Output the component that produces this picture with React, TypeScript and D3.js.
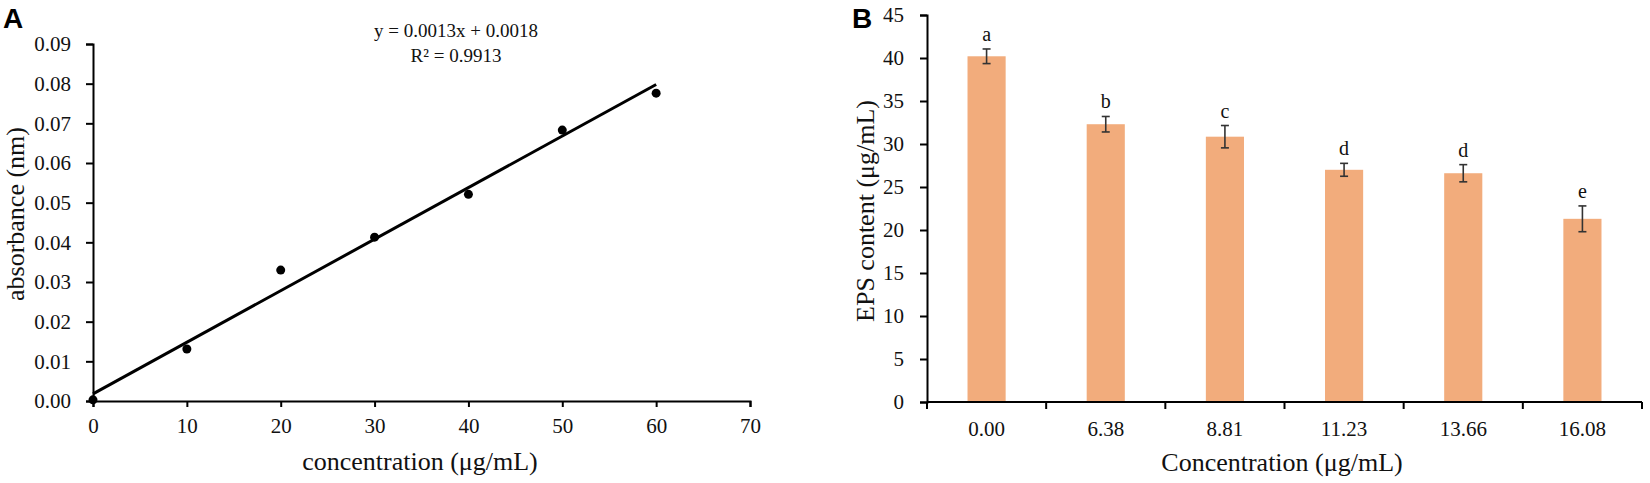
import { useEffect, useRef } from "react";
import * as d3 from "d3";

// Panel A: standard curve
const calibConc = [0, 10, 20, 30, 40, 50, 60];
const calibAbs = [0.0003, 0.0131, 0.033, 0.0413, 0.0521, 0.0683, 0.0776];
const slope = 0.0013;
const intercept = 0.0018;
const absTicks = [0, 0.01, 0.02, 0.03, 0.04, 0.05, 0.06, 0.07, 0.08, 0.09];
const concTicks = [0, 10, 20, 30, 40, 50, 60, 70];

// Panel B: EPS content
const concLabels = ["0.00", "6.38", "8.81", "11.23", "13.66", "16.08"];
const epsValues = [40.2, 32.3, 30.85, 27.0, 26.6, 21.3];
const epsErrors = [0.85, 0.9, 1.3, 0.75, 1.0, 1.5];
const sigLetters = ["a", "b", "c", "d", "d", "e"];
const epsTicks = [0, 5, 10, 15, 20, 25, 30, 35, 40, 45];

const FONT = "'Liberation Serif', 'Times New Roman', serif";
const INK = "#111";

export default function App() {
  const ref = useRef<SVGSVGElement | null>(null);

  useEffect(() => {
    const svg = d3.select(ref.current);
    svg.selectAll("*").remove();

    const styleAxis = (g: d3.Selection<SVGGElement, unknown, null, undefined>) => {
      g.select(".domain").attr("stroke-width", 2).attr("stroke", "#000");
      g.selectAll(".tick line").attr("stroke-width", 2).attr("stroke", "#000");
      g.selectAll("text").attr("font-family", FONT).attr("font-size", 21).attr("fill", INK);
    };

    // ---------- Panel A ----------
    const ax = d3.scaleLinear().domain([0, 70]).range([93, 750]);
    const ay = d3.scaleLinear().domain([0, 0.09]).range([401, 44]);

    const gA = svg.append("g");

    gA.append("g")
      .attr("transform", `translate(0,${ay(0)})`)
      .call(d3.axisBottom(ax).tickValues(concTicks).tickSize(6).tickPadding(11).tickFormat(d3.format("d")))
      .call(styleAxis);

    gA.append("g")
      .attr("transform", `translate(${ax(0)},0)`)
      .call(d3.axisLeft(ay).tickValues(absTicks).tickSize(7).tickPadding(15).tickFormat(d3.format(".2f")))
      .call(styleAxis);

    // trendline
    gA.append("line")
      .attr("x1", ax(0))
      .attr("y1", ay(intercept))
      .attr("x2", ax(60))
      .attr("y2", ay(slope * 60 + intercept))
      .attr("stroke", "#000")
      .attr("stroke-width", 3);

    gA.selectAll("circle")
      .data(calibConc)
      .enter()
      .append("circle")
      .attr("cx", d => ax(d))
      .attr("cy", (_, i) => ay(calibAbs[i]))
      .attr("r", 4.5)
      .attr("fill", "#000");

    gA.append("text")
      .attr("x", 456)
      .attr("y", 37)
      .attr("text-anchor", "middle")
      .attr("font-family", FONT)
      .attr("font-size", 19)
      .attr("fill", INK)
      .text("y = 0.0013x + 0.0018");
    gA.append("text")
      .attr("x", 456)
      .attr("y", 62)
      .attr("text-anchor", "middle")
      .attr("font-family", FONT)
      .attr("font-size", 19)
      .attr("fill", INK)
      .text("R² = 0.9913");

    gA.append("text")
      .attr("x", 420)
      .attr("y", 470)
      .attr("text-anchor", "middle")
      .attr("font-family", FONT)
      .attr("font-size", 26)
      .attr("fill", INK)
      .text("concentration (μg/mL)");
    gA.append("text")
      .attr("transform", `translate(24,214) rotate(-90)`)
      .attr("text-anchor", "middle")
      .attr("font-family", FONT)
      .attr("font-size", 26)
      .attr("fill", INK)
      .text("absorbance (nm)");

    gA.append("text")
      .attr("x", 3)
      .attr("y", 28)
      .attr("font-family", "'Liberation Sans', Arial, sans-serif")
      .attr("font-weight", "bold")
      .attr("font-size", 28)
      .attr("fill", "#000")
      .text("A");

    // ---------- Panel B ----------
    const bx = d3.scaleBand<string>().domain(concLabels).range([927, 1642]).paddingInner(0).paddingOuter(0);
    const by = d3.scaleLinear().domain([0, 45]).range([402, 15]);
    const barW = bx.bandwidth() * 0.32;
    const mid = (i: number) => bx(concLabels[i])! + bx.bandwidth() / 2;

    const gB = svg.append("g");

    gB.selectAll("rect.bar")
      .data(epsValues)
      .enter()
      .append("rect")
      .attr("class", "bar")
      .attr("x", (_, i) => mid(i) - barW / 2)
      .attr("y", d => by(d))
      .attr("width", barW)
      .attr("height", d => by(0) - by(d))
      .attr("fill", "#F2AC7C");

    // x axis with ticks on band boundaries
    const boundaries = concLabels.map(c => bx(c)!).concat([bx.range()[1]]);
    const xAxisB = gB.append("g").attr("transform", `translate(0,${by(0)})`);
    xAxisB.append("line")
      .attr("x1", bx.range()[0])
      .attr("x2", bx.range()[1])
      .attr("stroke", "#000")
      .attr("stroke-width", 2);
    xAxisB.selectAll("line.tk")
      .data(boundaries)
      .enter()
      .append("line")
      .attr("class", "tk")
      .attr("x1", d => d)
      .attr("x2", d => d)
      .attr("y1", 0)
      .attr("y2", 7)
      .attr("stroke", "#000")
      .attr("stroke-width", 2);
    xAxisB.selectAll("text")
      .data(concLabels)
      .enter()
      .append("text")
      .attr("x", (_, i) => mid(i))
      .attr("y", 34)
      .attr("text-anchor", "middle")
      .attr("font-family", FONT)
      .attr("font-size", 21)
      .attr("fill", INK)
      .text(d => d);

    gB.append("g")
      .attr("transform", `translate(${bx.range()[0]},0)`)
      .call(d3.axisLeft(by).tickValues(epsTicks).tickSize(7).tickPadding(16).tickFormat(d3.format("d")))
      .call(styleAxis);

    // error bars
    const errG = gB.selectAll("g.err")
      .data(epsValues)
      .enter()
      .append("g")
      .attr("class", "err")
      .attr("transform", (_, i) => `translate(${mid(i)},0)`)
      .attr("stroke", "#333")
      .attr("stroke-width", 1.6);
    errG.append("line")
      .attr("y1", (d, i) => by(d + epsErrors[i]))
      .attr("y2", (d, i) => by(d - epsErrors[i]));
    errG.append("line")
      .attr("x1", -4)
      .attr("x2", 4)
      .attr("y1", (d, i) => by(d + epsErrors[i]))
      .attr("y2", (d, i) => by(d + epsErrors[i]));
    errG.append("line")
      .attr("x1", -4)
      .attr("x2", 4)
      .attr("y1", (d, i) => by(d - epsErrors[i]))
      .attr("y2", (d, i) => by(d - epsErrors[i]));

    gB.selectAll("text.sig")
      .data(sigLetters)
      .enter()
      .append("text")
      .attr("class", "sig")
      .attr("x", (_, i) => mid(i))
      .attr("y", (_, i) => by(epsValues[i] + epsErrors[i]) - 8)
      .attr("text-anchor", "middle")
      .attr("font-family", FONT)
      .attr("font-size", 20)
      .attr("fill", INK)
      .text(d => d);

    gB.append("text")
      .attr("x", 1282)
      .attr("y", 471)
      .attr("text-anchor", "middle")
      .attr("font-family", FONT)
      .attr("font-size", 26)
      .attr("fill", INK)
      .text("Concentration (μg/mL)");
    gB.append("text")
      .attr("transform", `translate(874,211) rotate(-90)`)
      .attr("text-anchor", "middle")
      .attr("font-family", FONT)
      .attr("font-size", 26)
      .attr("fill", INK)
      .text("EPS content (μg/mL)");

    gB.append("text")
      .attr("x", 852)
      .attr("y", 28)
      .attr("font-family", "'Liberation Sans', Arial, sans-serif")
      .attr("font-weight", "bold")
      .attr("font-size", 28)
      .attr("fill", "#000")
      .text("B");
  }, []);

  return (
    <svg
      ref={ref}
      width={1650}
      height={483}
      style={{ position: "absolute", left: 0, top: 0, background: "#fff" }}
    />
  );
}
